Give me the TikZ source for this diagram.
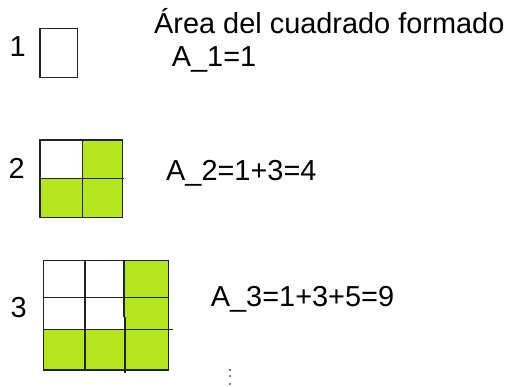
\documentclass[tikz,border=0pt]{standalone}
\usepackage{fontspec}
\setmainfont{Liberation Sans}
\definecolor{lime}{RGB}{181,230,29}
\definecolor{gridline}{RGB}{35,35,35}
\begin{document}
\begin{tikzpicture}[x=1pt,y=-1pt,
  lbl/.style={inner sep=0pt,anchor=base west,font=\fontsize{28.9}{34}\selectfont},
  cell/.style={fill=lime},
  gl/.style={draw=gridline,line width=1.5pt}]
\useasboundingbox (0,0) rectangle (507,387);
% labels
\node[lbl] (n1) at (9.5,56.7) {1};
\node[lbl] (n2) at (8.5,178.3) {2};
\node[lbl] (n3) at (10.5,318) {3};
\node[lbl] (title) at (154,33.3) {Área del cuadrado formado};
\node[lbl] (a1) at (171.7,66.7) {A\_1=1};
\node[lbl] (a2) at (166,180.7) {A\_2=1+3=4};
\node[lbl] (a3) at (210.7,306.7) {A\_3=1+3+5=9};
% square 1
\draw[gl] (40,28.3) rectangle (77.7,77.3);
% square 2
\fill[cell] (82.3,140) rectangle (122.7,178.7);
\fill[cell] (40,178.7) rectangle (122.7,217.3);
\draw[gl] (40,140) rectangle (122.7,217.3);
\draw[gl] (82.3,140) -- (82.3,217.3);
\draw[gl] (40,178.7) -- (124,178.7);
% square 3
\fill[cell] (124,260.7) rectangle (168.3,329.5);
\fill[cell] (43.7,329.5) rectangle (168.3,370);
\draw[gl] (43.7,260.7) rectangle (168.3,370);
\draw[gl] (85,260.7) -- (85,370);
\draw[gl] (124,260.7) -- (124,317);
\draw[gl] (125,317.5) -- (125,372.7);
\draw[gl] (43.7,297.5) -- (168.3,297.5);
\draw[gl] (43.7,329.5) -- (172.7,329.5);
% dots
\foreach \yy in {370,376.5,384.5}
  \fill[gray] (229,\yy-1) rectangle (231,\yy+1);
\end{tikzpicture}
\end{document}
